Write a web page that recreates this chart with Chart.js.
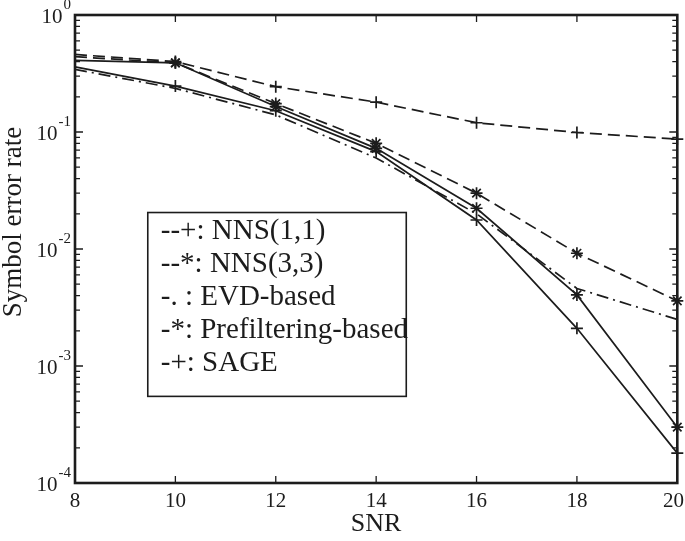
<!DOCTYPE html>
<html>
<head>
<meta charset="utf-8">
<script src="https://cdn.jsdelivr.net/npm/chart.js@4.4.1/dist/chart.umd.min.js"></script>
<style>
  html, body { margin: 0; padding: 0; background: #fff; }
  #wrap { width: 685px; height: 541px; position: relative; }
</style>
</head>
<body>
<div id="wrap"><canvas id="grafico"></canvas></div>
<script>
// dados
const snr = [8, 10, 12, 14, 16, 18, 20];
const nns11 = [0.46, 0.40, 0.244, 0.18, 0.12, 0.099, 0.087];
const nns33 = [0.44, 0.39, 0.175, 0.080, 0.030, 0.0092, 0.0036];
const evd = [0.343, 0.236, 0.14, 0.06, 0.02, 0.0046, 0.0025];
const prefilt = [0.41, 0.39, 0.165, 0.0725, 0.0223, 0.00405, 0.0003];
const sage = [0.36, 0.247, 0.152, 0.068, 0.0177, 0.0021, 0.00018];

const xTicks = [8, 10, 12, 14, 16, 18, 20];
const yDecades = [0, -1, -2, -3, -4];
const legendLabels = ['--+: NNS(1,1)', '--*: NNS(3,3)', '-. : EVD-based', '-*: Prefiltering-based', '-+: SAGE'];

const cor = '#1c1c1c';
const fonte = '"Liberation Serif", "Times New Roman", serif';

function serie(valores, estilo, ponto, tracejado){
    return {
        label: estilo,
        data: snr.map((x, i) => ({ x: x, y: valores[i] })),
        borderColor: cor,
        backgroundColor: cor,
        borderWidth: 1.7,
        borderDash: tracejado,
        pointStyle: ponto || 'circle',
        pointRadius: ctx => (ponto && ctx.dataIndex > 0) ? 6 : 0,
        pointBorderWidth: 1.7,
        pointBorderColor: cor,
        tension: 0,
        clip: false
    };
}

// moldura, marcas internas, rótulos dos eixos e legenda
const extras = {
    id: 'extras',
    afterDraw(chart){
        const c = chart.ctx;
        const xs = chart.scales.x, ys = chart.scales.y;
        const a = chart.chartArea;
        c.save();
        c.strokeStyle = cor;
        c.fillStyle = cor;

        // marcas do eixo x (para dentro, em baixo e em cima) + rótulos
        c.lineWidth = 1.3;
        c.font = '21px ' + fonte;
        c.textAlign = 'center';
        c.textBaseline = 'middle';
        xTicks.forEach(v => {
            const px = xs.getPixelForValue(v);
            c.beginPath();
            c.moveTo(px, a.bottom); c.lineTo(px, a.bottom - 7);
            c.moveTo(px, a.top); c.lineTo(px, a.top + 7);
            c.stroke();
            const t = String(v);
            const w = c.measureText(t).width;
            const tx = Math.min(px, chart.width - w / 2 - 1);
            c.fillText(t, tx, a.bottom + 18);
        });

        // marcas do eixo y, maiores nas décadas
        for (let d = -4; d <= 0; d++){
            for (let m = 1; m <= 9; m++){
                const v = m * Math.pow(10, d);
                if (v > 1) break;
                const py = ys.getPixelForValue(v);
                const len = m === 1 ? 8 : 5;
                c.beginPath();
                c.moveTo(a.left, py); c.lineTo(a.left + len, py);
                c.moveTo(a.right, py); c.lineTo(a.right - len, py);
                c.stroke();
            }
        }

        // moldura
        c.lineWidth = 2.6;
        c.strokeRect(a.left, a.top, a.right - a.left, a.bottom - a.top);

        // rótulos 10^n
        c.textBaseline = 'alphabetic';
        c.textAlign = 'left';
        yDecades.forEach(e => {
            const py = ys.getPixelForValue(Math.pow(10, e));
            const expo = String(e);
            c.font = '15px ' + fonte;
            const we = c.measureText(expo).width;
            c.font = '21px ' + fonte;
            const wb = c.measureText('10').width;
            const x0 = a.left - 5 - we - wb;
            c.fillText('10', x0, py + 8);
            c.font = '15px ' + fonte;
            c.fillText(expo, x0 + wb + 1, py - 6);
        });

        // títulos dos eixos
        c.save();
        c.translate(14, 222);
        c.rotate(-Math.PI / 2);
        c.font = '27px ' + fonte;
        c.textAlign = 'center';
        c.textBaseline = 'middle';
        c.fillText('Symbol error rate', 0, 0);
        c.restore();
        c.font = '26px ' + fonte;
        c.textAlign = 'center';
        c.textBaseline = 'middle';
        c.fillText('SNR', (a.left + a.right) / 2, 524);

        // legenda
        const bx = xs.getPixelForValue(9.45), by = ys.getPixelForValue(0.0205);
        const bx2 = xs.getPixelForValue(14.6), by2 = ys.getPixelForValue(0.00055);
        c.fillStyle = '#fff';
        c.fillRect(bx, by, bx2 - bx, by2 - by);
        c.fillStyle = cor;
        c.lineWidth = 1.6;
        c.strokeRect(bx, by, bx2 - bx, by2 - by);
        c.font = '29px ' + fonte;
        c.textAlign = 'left';
        c.textBaseline = 'middle';
        legendLabels.forEach((t, i) => {
            c.fillText(t, bx + 13, by + 19 + i * 33);
        });
        c.restore();
    }
};

new Chart(document.getElementById('grafico'), {
    type: 'line',
    data: {
        datasets: [
            serie(nns11, 'NNS(1,1)', 'cross', [12, 6]),
            serie(nns33, 'NNS(3,3)', 'star', [12, 6]),
            serie(evd, 'EVD-based', null, [12, 5, 2, 5]),
            serie(prefilt, 'Prefiltering-based', 'star', []),
            serie(sage, 'SAGE', 'cross', [])
        ]
    },
    options: {
        responsive: true,
        maintainAspectRatio: false,
        animation: false,
        layout: { padding: { top: 15, right: 7, left: 0, bottom: 0 } },
        plugins: { legend: { display: false }, tooltip: { enabled: false } },
        scales: {
            x: {
                type: 'linear',
                min: 8, max: 20,
                afterBuildTicks: s => { s.ticks = xTicks.map(v => ({ value: v })); },
                afterFit: s => { s.height = 58; s.paddingLeft = 0; s.paddingRight = 0; },
                grid: { display: false, drawTicks: false },
                border: { display: false },
                ticks: { display: false }
            },
            y: {
                type: 'logarithmic',
                min: 1e-4, max: 1,
                afterFit: s => { s.width = 75; s.paddingTop = 0; s.paddingBottom = 0; },
                grid: { display: false, drawTicks: false },
                border: { display: false },
                ticks: { display: false }
            }
        }
    },
    plugins: [extras]
});
</script>
</body>
</html>
